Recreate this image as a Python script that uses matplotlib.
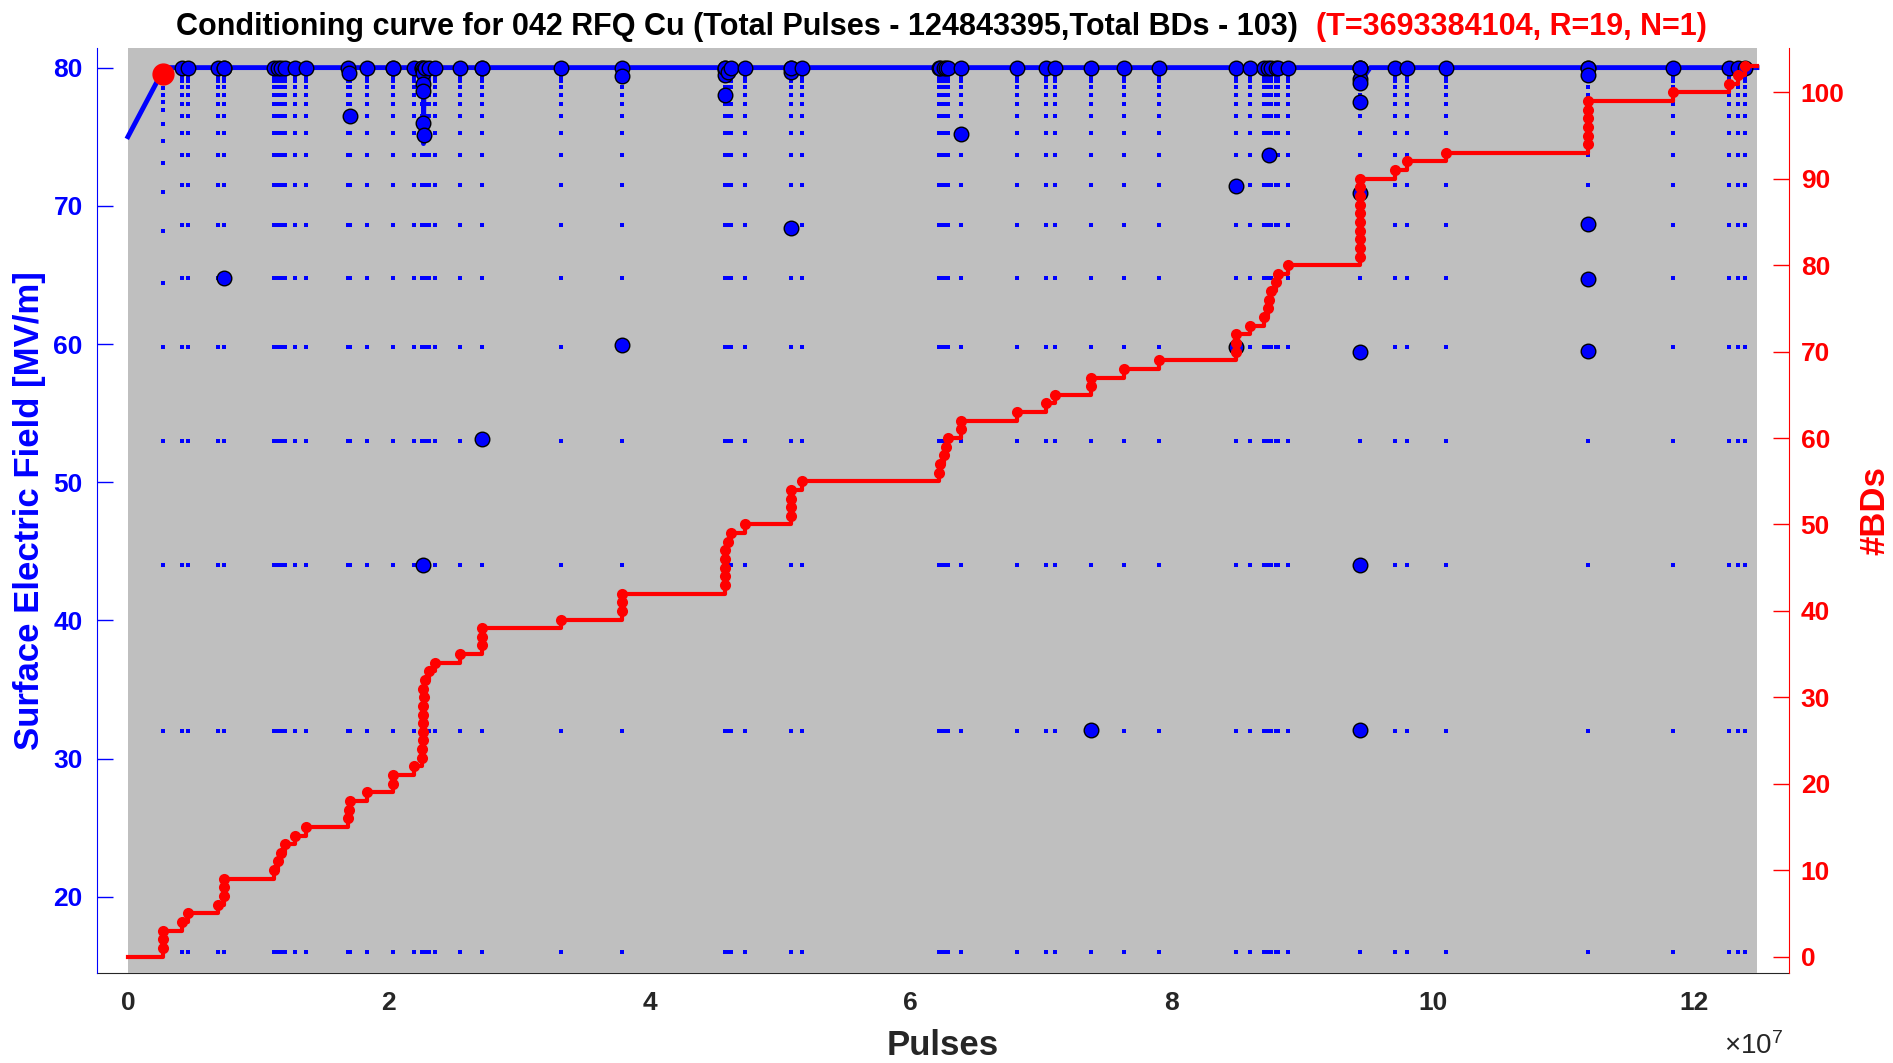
import matplotlib
matplotlib.use('Agg')
import matplotlib.pyplot as plt
import numpy as np

plt.rcParams['font.family'] = ['Liberation Sans', 'DejaVu Sans']
plt.rcParams['font.weight'] = 'bold'
plt.rcParams['axes.labelweight'] = 'bold'
plt.rcParams['mathtext.default'] = 'regular'

total_pulses = 124843395
total_bds = 103

# pulse position of every breakdown (units of 1e7 pulses)
bd_x = [0.267, 0.267, 0.267,
        0.418, 0.464,
        0.691, 0.733, 0.733, 0.733,
        1.123, 1.148, 1.170, 1.200, 1.280, 1.362,
        1.690, 1.695, 1.700,
        1.830, 2.030, 2.030, 2.196,
        2.250, 2.255, 2.260, 2.262, 2.265, 2.265, 2.265, 2.268, 2.265, 2.280,
        2.310, 2.350, 2.544,
        2.717, 2.717, 2.717,
        3.318,
        3.784, 3.784, 3.784,
        4.572, 4.572, 4.574, 4.576, 4.578, 4.600, 4.618,
        4.728,
        5.078, 5.078, 5.078, 5.080,
        5.165,
        6.215, 6.220, 6.255, 6.272, 6.288,
        6.386, 6.386,
        6.811, 7.035, 7.105,
        7.377, 7.377,
        7.637, 7.903,
        8.494, 8.494, 8.494,
        8.600, 8.710, 8.735, 8.745, 8.760, 8.800, 8.810, 8.890,
        9.440, 9.440, 9.440, 9.440, 9.440, 9.440, 9.440, 9.440, 9.440, 9.440,
        9.710, 9.800, 10.100,
        11.190, 11.190, 11.190, 11.190, 11.190, 11.190,
        11.840, 12.270, 12.340, 12.390]

# surface field at which each breakdown happened [MV/m]
bd_field = [79.5, 79.5, 79.5,
            80, 80,
            80, 80, 80, 64.8,
            80, 80, 80, 80, 80, 80,
            80, 79.6, 76.5,
            80, 80, 80, 80,
            80, 80, 79.8, 79.6, 78.8, 78.3, 76.0, 75.1, 44.0, 80,
            80, 80, 80,
            80, 80, 53.1,
            80,
            80, 79.4, 59.9,
            80, 79.8, 79.5, 78.0, 80, 79.7, 80,
            80,
            80, 79.7, 68.4, 80,
            80,
            80, 80, 80, 80, 80,
            80, 75.2,
            80, 80, 80,
            80, 32.1,
            80, 80,
            80, 71.4, 59.8,
            80, 80, 80, 73.7, 80, 80, 80, 80,
            80, 80, 79.2, 78.9, 77.5, 70.9, 59.4, 44.0, 32.1, 80,
            80, 80, 80,
            80, 80, 79.5, 68.7, 64.7, 59.5,
            80, 80, 80, 80]

# field steps of the recovery ramp after a breakdown
ramp_levels = [16.0, 32.0, 44.0, 53.0, 59.8, 64.8, 68.6, 71.5, 73.7, 75.3,
               76.5, 77.4, 78.05, 78.6, 79.0, 79.35, 79.65]
first_ramp_levels = [16.0, 32.0, 44.0, 53.0, 59.8, 64.4, 68.2, 71.0, 73.1,
                     74.7, 75.9, 76.9, 77.5, 78.05, 78.5, 78.95]

# field set-point line
line_x = [0, 0.28, 2.265, 2.265, 2.27, 9.44, 9.44, 9.52, 12.4843395]
line_y = [75.0, 80.0, 80.0, 74.5, 80.0, 80.0, 78.9, 80.0, 80.0]

marker_x = 0.267
marker_y = 79.55

x_ticks = [0, 2, 4, 6, 8, 10, 12]

bd_x = np.array(bd_x) * 1e7
counts = np.arange(1, len(bd_x) + 1)

fig = plt.figure(figsize=(18.93, 10.63), dpi=100)
ax1 = fig.add_axes([0.051, 0.0847, 0.894, 0.8699])
ax2 = ax1.twinx()

ax1.axvspan(0, total_pulses, color='#bfbfbf', lw=0, zorder=1)
ax1.set_axisbelow(True)

# ramp dots at every breakdown position
ux = np.unique(bd_x)
dx, dy = [], []
for x in ux:
    levels = first_ramp_levels if x < 0.3e7 else ramp_levels
    for lv in levels:
        dx.append(x)
        dy.append(lv)
ax1.plot(dx, dy, ls='none', marker='s', ms=3, mew=0, color='blue', zorder=2)
ax1.plot(np.array(line_x) * 1e7, line_y, color='blue', lw=3.5, zorder=3)
ax1.plot(bd_x, bd_field, ls='none', marker='o', ms=10.5, mfc='blue',
         mec='black', mew=1, zorder=4)
ax1.plot([marker_x * 1e7], [marker_y], ls='none', marker='o', ms=15,
         color='red', zorder=5)

ax2.step(np.r_[0, bd_x, total_pulses], np.r_[0, counts, total_bds],
         where='post', color='red', lw=3, zorder=2)
ax2.plot(bd_x, counts, ls='none', marker='o', ms=8, mew=0, color='red', zorder=3)

ax1.set_xlim(-0.2405e7, 12.729e7)
ax1.set_ylim(14.5, 81.4)
ax2.set_ylim(-1.9, 105.1)

ax1.set_xticks([t * 1e7 for t in x_ticks])
ax1.set_xticklabels([str(t) for t in x_ticks])
ax1.tick_params(axis='x', length=0, pad=13, labelsize=19, labelcolor='#262626')
ax1.set_yticks(range(20, 81, 10))
ax1.tick_params(axis='y', direction='in', length=11.5, width=1, colors='blue',
                labelsize=19, pad=10)
ax2.set_yticks(range(0, 101, 10))
ax2.tick_params(axis='y', direction='in', length=11.5, width=1, colors='red',
                labelsize=19, pad=8.5)

for s in ['top', 'right']:
    ax1.spines[s].set_visible(False)
ax1.spines['left'].set_color('blue')
ax1.spines['bottom'].set_color('#262626')
ax1.spines['bottom'].set_zorder(0.6)
for s in ['top', 'left', 'bottom']:
    ax2.spines[s].set_visible(False)
ax2.spines['right'].set_color('red')

ax1.set_xlabel('Pulses', fontsize=25, fontweight='bold', color='#262626')
ax1.xaxis.set_label_coords(0.5, -0.078)
ax1.xaxis.label.set_verticalalignment('center')
ax1.set_ylabel('Surface Electric Field [MV/m]', fontsize=25, fontweight='bold',
               color='blue')
ax1.yaxis.set_label_coords(-0.0399, 0.5)
ax1.yaxis.label.set_verticalalignment('center')
ax2.set_ylabel('#BDs', fontsize=25, fontweight='bold', color='red')
ax2.yaxis.set_label_coords(1.0508, 0.5)
ax2.yaxis.label.set_verticalalignment('center')

fig.text(1724 / 1893, 1 - 1046 / 1063, r'$\times10^{7}$', fontsize=20,
         fontweight='normal', color='#262626', ha='left', va='center')

fig.text(1298 / 1893, 1 - 27 / 1063,
         'Conditioning curve for 042 RFQ Cu (Total Pulses - %d,Total BDs - %d)'
         % (total_pulses, total_bds),
         fontsize=22, color='black', ha='right', va='center')
fig.text(1316 / 1893, 1 - 27 / 1063, '(T=3693384104, R=19, N=1)',
         fontsize=22, color='red', ha='left', va='center')

fig.savefig('out.png', dpi=100)
